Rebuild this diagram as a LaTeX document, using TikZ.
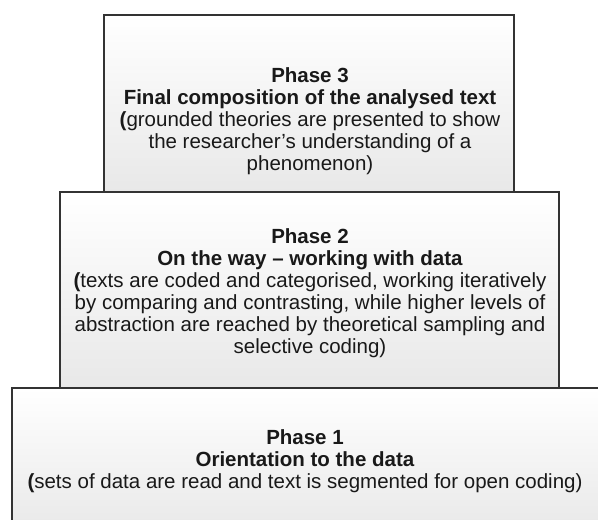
\documentclass[tikz,border=0pt]{standalone}
\usepackage{fontspec}
\setmainfont{Liberation Sans}
\begin{document}
\begin{tikzpicture}[x=1pt,y=-1pt,
  phasebox/.style={draw=black!80, line width=2.2pt, top color=white, bottom color=black!9},
  phasetext/.style={align=center, text=black!90, font=\fontsize{20.5}{22}\selectfont, inner sep=0pt}]
\useasboundingbox (0,0) rectangle (598,520);
\begin{scope}
\clip (0,0) rectangle (598,520);
% stacked boxes, widest at the bottom
\path[phasebox] (12,388) rectangle (612,534);
\path[phasebox] (60,192) rectangle (559,388);
\path[phasebox] (104,15) rectangle (514,192);
\end{scope}
\node[phasetext] (p3) at (310,121) {\textbf{Phase 3}\\
  \textbf{Final composition of the analysed text}\\
  \textbf{(}grounded theories are presented to show\\
  the researcher’s understanding of a\\
  phenomenon)};
\node[phasetext] (p2) at (310,293) {\textbf{Phase 2}\\
  \textbf{On the way – working with data}\\
  \textbf{(}texts are coded and categorised, working iteratively\\
  by comparing and contrasting, while higher levels of\\
  abstraction are reached by theoretical sampling and\\
  selective coding)};
\node[phasetext] (p1) at (305,461) {\textbf{Phase 1}\\
  \textbf{Orientation to the data}\\
  \textbf{(}sets of data are read and text is segmented for open coding)};
\end{tikzpicture}
\end{document}
